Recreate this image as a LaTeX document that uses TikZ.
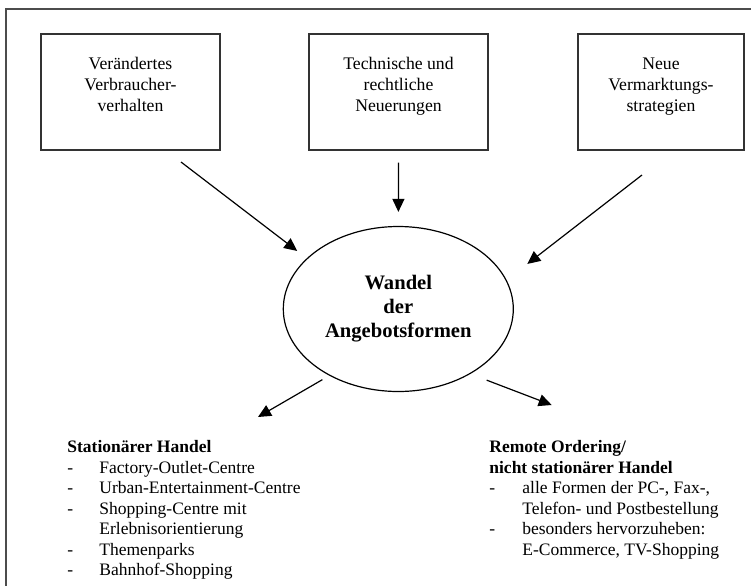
\documentclass[tikz,border=0pt]{standalone}
\usepackage{fontspec}
\setmainfont{Liberation Serif}
\usepackage{tikz}
\usetikzlibrary{arrows.meta}
\usetikzlibrary{shapes}
\tikzset{>={Triangle[length=6.5pt,width=6pt]}}
\newcommand{\boxfont}{\fontsize{8.85}{10.5}\selectfont}
\newcommand{\listfont}{\fontsize{8.75}{10.25}\selectfont}

\begin{document}
\begin{tikzpicture}[x=0.5pt,y=-0.5pt,every node/.style={align=center},
  box/.style={draw=black!80,line width=0.7pt,rectangle,minimum width=89.5pt,minimum height=58pt,font=\boxfont,text height=27pt,text depth=8pt},
  oval/.style={draw,line width=0.6pt,ellipse,minimum width=115pt,minimum height=82.5pt,font=\fontsize{10.3}{12}\selectfont\bfseries},
  list/.style={anchor=base west,inner sep=0pt,font=\listfont,align=left},
  arr/.style={->,line width=0.6pt}]

\useasboundingbox (0,0) rectangle (751,585);
\clip (0,0) rectangle (751,585);
\draw[black!70,line width=1pt] (6,8.7) rectangle (760,600);

% the three causes
\draw node[box] at (130.5,92) (b1) {Verändertes\\Verbraucher-\\verhalten};
\draw node[box] at (398.5,92) (b2) {Technische und\\rechtliche\\Neuerungen};
\draw node[box,minimum width=83pt] at (661,92) (b3) {Neue\\Vermarktungs-\\strategien};

\draw node[oval] at (398.3,309) (ell) {Wandel\\der\\Angebotsformen};

% the two forms
\draw node[list] at (67,452.5) (stat) {\begin{tabular}[t]{@{}p{16pt}@{}l@{}}
\multicolumn{2}{@{}l@{}}{\bfseries Stationärer Handel}\\
- & Factory-Outlet-Centre\\
- & Urban-Entertainment-Centre\\
- & Shopping-Centre mit\\
  & Erlebnisorientierung\\
- & Themenparks\\
- & Bahnhof-Shopping
\end{tabular}};
\draw node[list] at (489,452.5) (remote) {\begin{tabular}[t]{@{}p{16.5pt}@{}l@{}}
\multicolumn{2}{@{}l@{}}{\bfseries Remote Ordering/}\\
\multicolumn{2}{@{}l@{}}{\bfseries nicht stationärer Handel}\\
- & alle Formen der PC-, Fax-,\\
  & Telefon- und Postbestellung\\
- & besonders hervorzuheben:\\
  & E-Commerce, TV-Shopping
\end{tabular}};

\coordinate (f1) at (181,162);
\coordinate (f3) at (642,175);
\coordinate (f4) at (258,417);
\coordinate (f5) at (551.7,405);

\draw[arr,shorten >=6pt] (f1) -- (ell.151.6);
\draw[arr,shorten <=6pt,shorten >=7pt] (b2) -- (ell);
\draw[arr,shorten >=13.1pt] (f3) -- (ell.15.1);
\draw[arr,shorten <=4pt] (ell.224) -- (f4);
\draw[arr,shorten <=8.7pt] (ell.318.8) -- (f5);

\end{tikzpicture}
\end{document}
